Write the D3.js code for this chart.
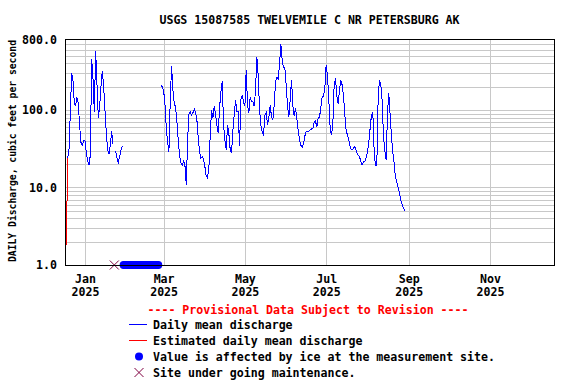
<!DOCTYPE html>
<html><head><meta charset="utf-8">
<script src="https://cdn.jsdelivr.net/npm/d3@7"></script>
<style>
body{margin:0;background:#fff;}
svg text{font-family:"DejaVu Sans Mono","Liberation Mono",monospace;font-weight:bold;font-size:11.6px;fill:#000;}
</style></head><body>
<svg id="chart" width="576" height="384"></svg>
<script>
// ---------- data ----------
const chartTitle = "USGS 15087585 TWELVEMILE C NR PETERSBURG AK";
const yAxisTitle = "DAILY Discharge, cubic feet per second";
const provisionalNote = "---- Provisional Data Subject to Revision ----";

const monthTickDates = ["2025-01-01","2025-03-01","2025-05-01","2025-07-01","2025-09-01","2025-11-01"];
const monthTickLabels = ["Jan","Mar","May","Jul","Sep","Nov"];
const yearTickLabels = ["2025","2025","2025","2025","2025","2025"];

const yTickValues = [1, 10, 100, 800];
const yTickLabels = ["1.0","10.0","100.0","800.0"];

// estimated daily mean discharge (red)
const estimatedStart = "2024-12-18";
const estimatedValues = [1.8, 24];

// daily mean discharge (blue), first run (null = missing day)
const dailyStart1 = "2024-12-19";
const dailyValues1 = [24,31,95,300,240,120,115,145,120,62,
  38,35,40,40,28,22,19.5,26,450,260,
  95,580,215,80,110,200,320,200,100,50,
  31,27,35,54,36,null,30,24,21,25,
  30,34];

// daily mean discharge (blue), second run
const dailyStart2 = "2025-02-27";
const dailyValues2 = [210,200,180,120,60,38,29,135,370,180,
  120,110,70,40,26,21,19.5,22,19.5,10.8,
  41,89,95,86,92,103,92,74,43,29,
  24,25,23,18.5,14,13.3,18,48,100,79,
  112,86,64,50,106,170,237,64,41,30.5,
  64,49,30.5,28,55,86,135,95,95,34,
  135,155,127,112,330,115,92,147,127,127,
  112,180,480,280,100,64,52,47,86,92,
  64,79,115,81,74,115,230,265,255,380,
  700,440,350,350,210,115,81,135,245,115,
  83,106,79,55,41,35,33,37,46,53,
  53,53,55,57,57,70,72,60,79,81,
  106,150,150,192,380,280,135,60,47,64,
  210,255,155,120,180,245,210,155,86,55,
  47,41,34,30.5,30.5,34,32,28.5,26,25,
  22,19.5,21.5,21.5,24,28.5,38,58,86,95,
  30.5,19,19,135,245,215,135,47,30.5,22.6,
  86,166,86,47,28.5,20.6,13.6,11.8,10.1,8.5,
  6.9,6.1,5.4,5.0];

// ice-affected days and maintenance days
const iceFirstDay = "2025-01-30";
const iceLastDay = "2025-02-25";
const maintenanceDays = ["2025-01-23"];

const legendLabels = ["Daily mean discharge","Estimated daily mean discharge",
  "Value is affected by ice at the measurement site.","Site under going maintenance."];

// ---------- helpers ----------
const parse = s => new Date(s + "T00:00:00Z");
const series = (start, vals) => vals.map((v,i) => ({date: d3.utcDay.offset(parse(start), i), v}));

const svg = d3.select("#chart");
const L = 65, R = 554, T = 40, B = 265;
const x = d3.scaleUtc().domain([parse("2024-12-17"), parse("2025-12-19")]).range([L, R]);
const y = d3.scaleLog().domain([1, 800]).range([B, T]);

// grid
const grid = svg.append("g").attr("shape-rendering","crispEdges").attr("stroke","#c8c8c8").attr("stroke-width",1);
const minorY = [];
[1,10,100].forEach(dec => { for (let k=1;k<=9;k++){ const v=k*dec; if (v>1 && v<800) minorY.push(v);} });
grid.selectAll("line.h").data(minorY).join("line")
  .attr("x1", L).attr("x2", R).attr("y1", d => Math.round(y(d))+0.5).attr("y2", d => Math.round(y(d))+0.5);
grid.selectAll("line.v").data(monthTickDates.map(parse)).join("line")
  .attr("y1", T).attr("y2", B).attr("x1", d => Math.round(x(d))+0.5).attr("x2", d => Math.round(x(d))+0.5);

// ice markers
const iceDays = d3.utcDay.range(parse(iceFirstDay), d3.utcDay.offset(parse(iceLastDay),1));
svg.append("g").selectAll("circle").data(iceDays).join("circle")
  .attr("cx", d => x(d)).attr("cy", B).attr("r", 4).attr("fill","#0000ff");

// maintenance markers
const mColor = "#800040";
const mg = svg.append("g").attr("stroke", mColor).attr("stroke-width",1);
maintenanceDays.map(parse).forEach(d => {
  const cx = x(d), cy = B, s = 4.5;
  mg.append("line").attr("x1",cx-s).attr("y1",cy-s).attr("x2",cx+s).attr("y2",cy+s);
  mg.append("line").attr("x1",cx-s).attr("y1",cy+s).attr("x2",cx+s).attr("y2",cy-s);
});

// lines
const line = d3.line().defined(d => d.v != null).x(d => x(d.date)).y(d => y(d.v));
svg.append("path").datum(series(estimatedStart, estimatedValues))
  .attr("d", line).attr("fill","none").attr("stroke","#ff0000").attr("stroke-width",1).attr("shape-rendering","crispEdges");
[series(dailyStart1, dailyValues1), series(dailyStart2, dailyValues2)].forEach(s => {
  svg.append("path").datum(s).attr("d", line).attr("fill","none")
    .attr("stroke","#0000ff").attr("stroke-width",1).attr("shape-rendering","crispEdges");
});

// frame
svg.append("rect").attr("x", L+0.5).attr("y", T-0.5).attr("width", R-L).attr("height", B-T+0.5)
  .attr("fill","none").attr("stroke","#000").attr("stroke-width",1).attr("shape-rendering","crispEdges");

// axes
const yAxis = d3.axisLeft(y).tickValues(yTickValues).tickFormat((d,i) => yTickLabels[i]).tickSize(0).tickPadding(8);
const gy = svg.append("g").attr("transform", `translate(${L},0)`).call(yAxis);
gy.select(".domain").remove();
gy.selectAll("text").attr("font-family", null).attr("font-size", null);

const xAxis = d3.axisBottom(x).tickValues(monthTickDates.map(parse)).tickSize(0);
const gx = svg.append("g").attr("transform", `translate(0,${B})`).call(xAxis);
gx.select(".domain").remove();
gx.selectAll("text").attr("font-family", null).attr("font-size", null).each(function(d,i){
  const t = d3.select(this).text(null).attr("dy", null).attr("y", null);
  t.append("tspan").attr("x",0).attr("y",18).text(monthTickLabels[i]);
  t.append("tspan").attr("x",0).attr("y",31).text(yearTickLabels[i]);
});

// titles
svg.append("text").attr("x", (L+R)/2).attr("y", 24).attr("text-anchor","middle").text(chartTitle);
svg.append("text").attr("transform","translate(15.5,151) rotate(-90)").attr("text-anchor","middle")
  .style("font-size","11px").attr("textLength", 222).attr("lengthAdjust","spacingAndGlyphs").text(yAxisTitle);

// legend
svg.append("text").attr("x", 308).attr("y", 314).attr("text-anchor","middle").style("fill","#ff0000").text(provisionalNote);
const lg = svg.append("g");
const rowsY = [329, 345, 361, 377];
lg.append("line").attr("x1",129).attr("x2",147).attr("y1",rowsY[0]-4.5).attr("y2",rowsY[0]-4.5).attr("stroke","#0000ff").attr("shape-rendering","crispEdges");
lg.append("line").attr("x1",129).attr("x2",147).attr("y1",rowsY[1]-4.5).attr("y2",rowsY[1]-4.5).attr("stroke","#ff0000").attr("shape-rendering","crispEdges");
lg.append("circle").attr("cx",139).attr("cy",rowsY[2]-4.5).attr("r",4).attr("fill","#0000ff");
const lx = 139, ly = rowsY[3]-4.5, ls = 4.5;
lg.append("line").attr("x1",lx-ls).attr("y1",ly-ls).attr("x2",lx+ls).attr("y2",ly+ls).attr("stroke",mColor);
lg.append("line").attr("x1",lx-ls).attr("y1",ly+ls).attr("x2",lx+ls).attr("y2",ly-ls).attr("stroke",mColor);
lg.selectAll("text.lab").data(legendLabels).join("text").attr("class","lab")
  .attr("x",153).attr("y",(d,i)=>rowsY[i]).text(d=>d);
</script>
</body></html>
